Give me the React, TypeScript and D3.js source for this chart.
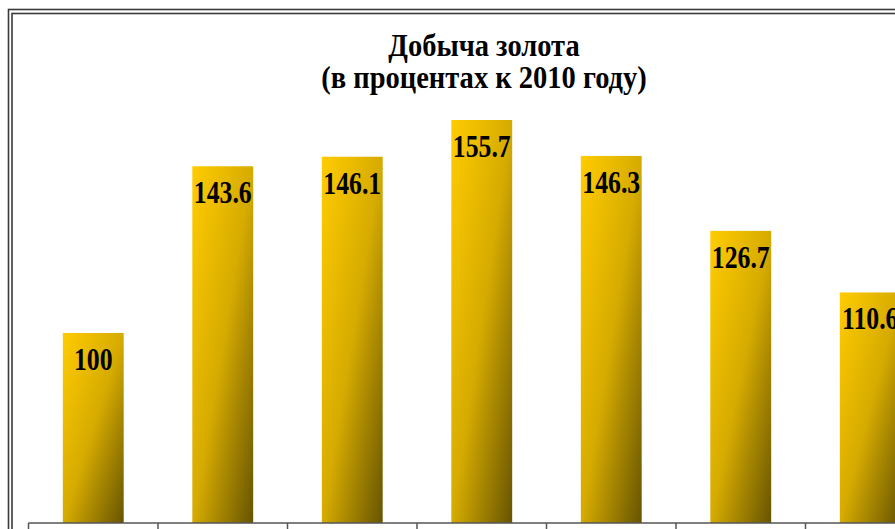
import React from "react";
import * as d3 from "d3";

const categories = ["2010", "2011", "2012", "2013", "2014", "2015", "2016"];
const values = [100, 143.6, 146.1, 155.7, 146.3, 126.7, 110.6];
const valueLabels = ["100", "143.6", "146.1", "155.7", "146.3", "126.7", "110.6"];
const titleLines = ["Добыча золота", "(в процентах к 2010 году)"];

const W = 895;
const H = 529;

export default function App() {
  const x = d3
    .scaleBand<string>()
    .domain(categories)
    .range([28.5, 28.5 + 129.5 * categories.length])
    .paddingInner(0.53)
    .paddingOuter(0.265);
  const y = d3.scaleLinear().domain([50.3, 155.7]).range([523, 120]);
  const step = x.step();
  const x0 = 28.5;
  const font = "'Liberation Serif', 'Times New Roman', serif";
  const sx = 0.83;
  const titleSx = 0.92;

  return (
    <svg
      width={W}
      height={H}
      style={{ position: "absolute", left: 0, top: 0, background: "#fff" }}
    >
      <defs>
        <linearGradient id="gold" x1="0" y1="0" x2="1" y2="1">
          <stop offset="0" stopColor="#FFCC00" />
          <stop offset="0.5" stopColor="#D6AB00" />
          <stop offset="1" stopColor="#665400" />
        </linearGradient>
      </defs>
      {/* double border */}
      <rect x={8.5} y={9.5} width={W + 20} height={H + 20} fill="none" stroke="#3a3a3a" strokeWidth={1.6} />
      <rect x={12} y={13.5} width={W + 20} height={H + 20} fill="none" stroke="#3a3a3a" strokeWidth={1.6} />
      {/* title */}
      {titleLines.map((t, i) => (
        <text
          key={i}
          transform={`translate(484, ${56 + i * 32}) scale(${titleSx},1)`}
          textAnchor="middle"
          fontFamily={font}
          fontWeight="bold"
          fontSize={31}
          fill="#000"
        >
          {t}
        </text>
      ))}
      {/* bars */}
      {categories.map((c, i) => (
        <rect
          key={c}
          x={x(c)}
          y={y(values[i])}
          width={x.bandwidth()}
          height={y.range()[0] - y(values[i])}
          fill="url(#gold)"
        />
      ))}
      {/* axis line & ticks */}
      <line x1={x0} x2={W} y1={523} y2={523} stroke="#555" strokeWidth={1.5} />
      {d3.range(categories.length + 1).map((i) => (
        <line
          key={i}
          x1={x0 + i * step}
          x2={x0 + i * step}
          y1={523}
          y2={H + 5}
          stroke="#555"
          strokeWidth={1.5}
        />
      ))}
      {/* value labels */}
      {categories.map((c, i) => (
        <text
          key={c}
          transform={`translate(${(x(c) as number) + x.bandwidth() / 2}, ${y(values[i]) + 37}) scale(${sx},1)`}
          textAnchor="middle"
          fontFamily={font}
          fontWeight="bold"
          fontSize={31}
          fill="#000"
        >
          {valueLabels[i]}
        </text>
      ))}
    </svg>
  );
}
